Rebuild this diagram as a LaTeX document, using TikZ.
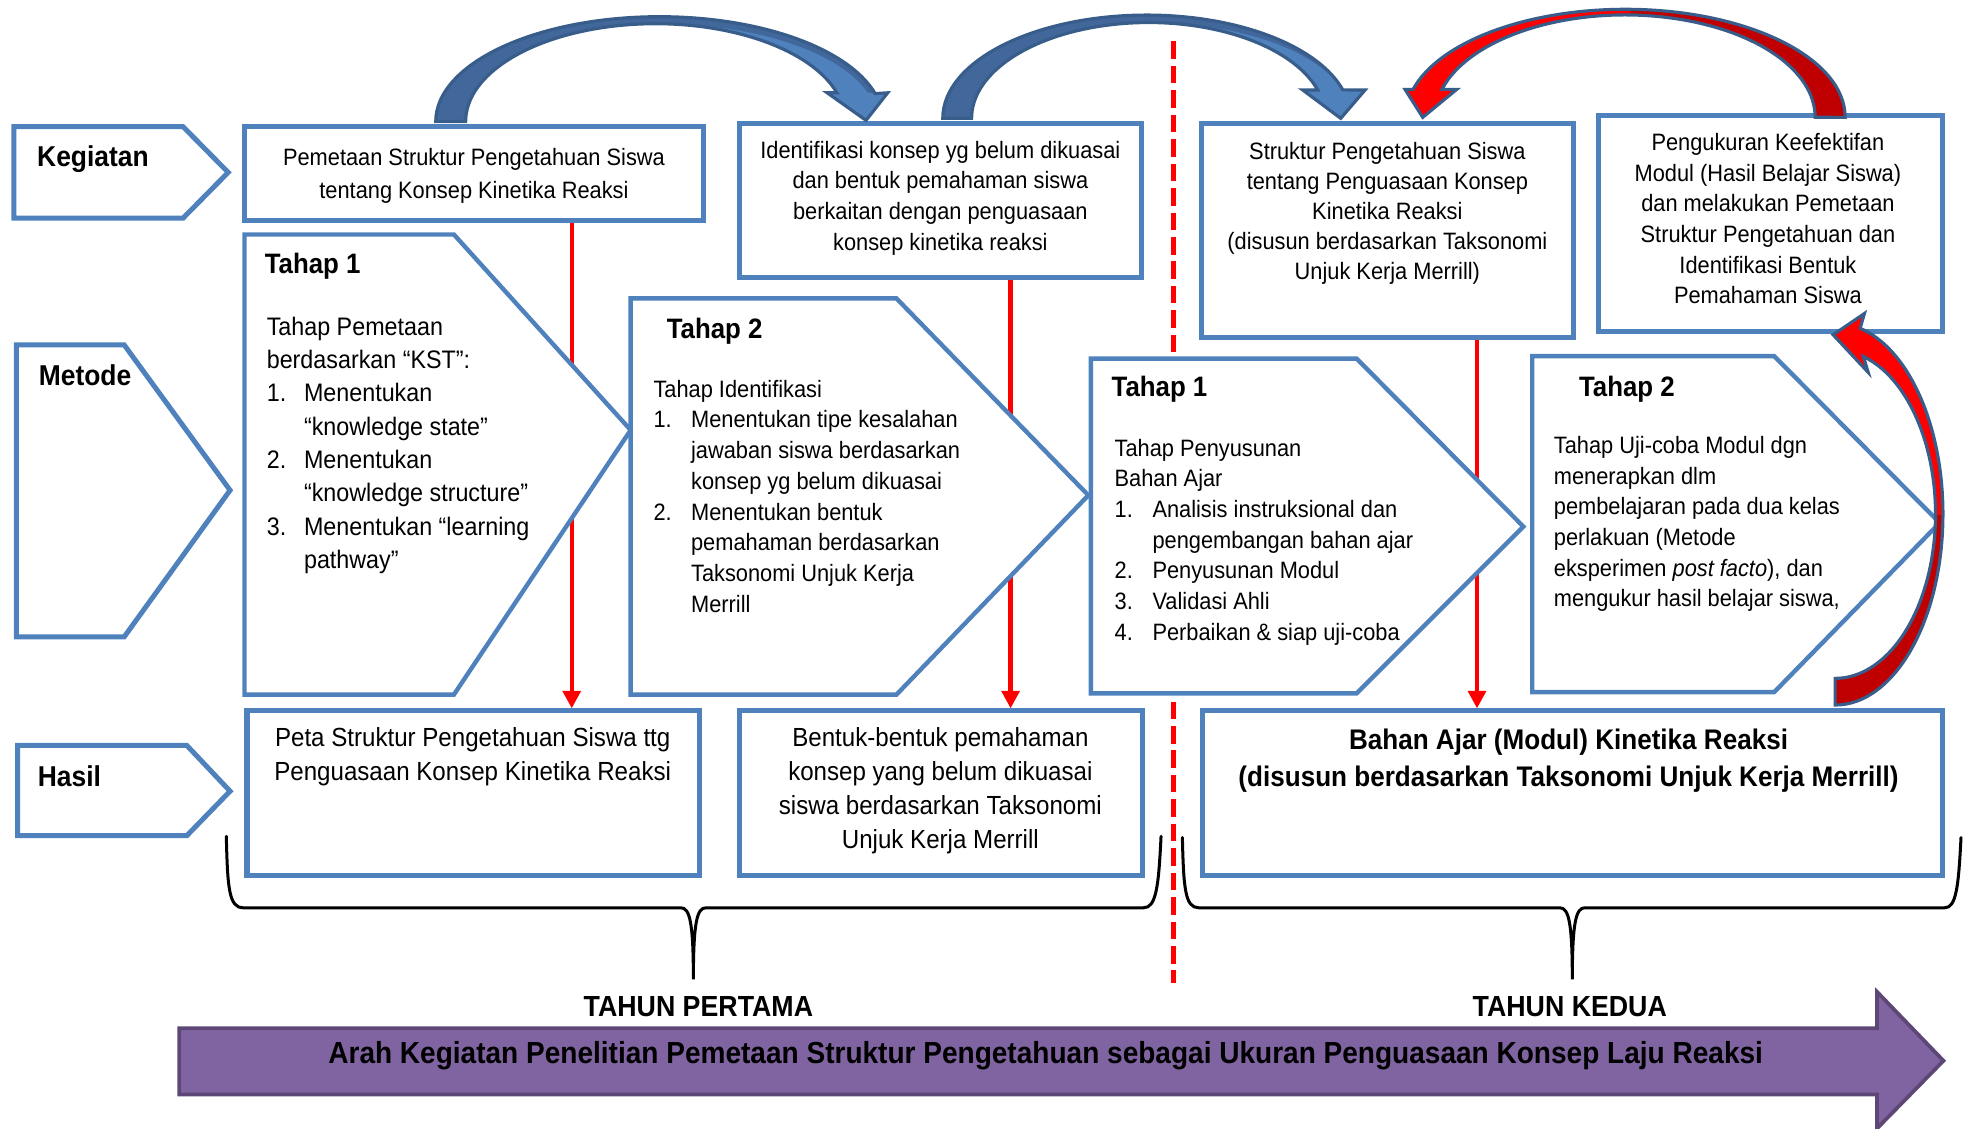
\documentclass[tikz,border=0pt]{standalone}
\usepackage{fontspec}
\setmainfont[FakeStretch=0.92]{Liberation Sans}
\usetikzlibrary{arrows.meta}

\definecolor{boxblue}{HTML}{4F81BD}
\definecolor{arrowedge}{HTML}{385D8A}
\definecolor{arrowback}{HTML}{41679B}
\definecolor{arrowfront}{HTML}{4F81BD}
\definecolor{darkred}{HTML}{C00000}
\definecolor{purplefill}{HTML}{8064A2}
\definecolor{purpleedge}{HTML}{5C4776}

\tikzset{
  box/.style={draw=boxblue, line width=4pt, fill=white, inner sep=0pt},
  chev/.style={draw=boxblue, line width=3.5pt, fill=white, line join=miter},
  lblshape/.style={draw=boxblue, line width=4pt, fill=white, line join=miter},
  txt/.style={inner sep=0pt, anchor=base west, font=\fontsize{18.9}{24.5}\selectfont},
  txtc/.style={txt, anchor=base},
  bigtxt/.style={txt, font=\fontsize{20.2}{27}\selectfont},
  restxt/.style={txtc, font=\fontsize{20.9}{27}\selectfont},
  resbold/.style={txtc, font=\fontsize{22.6}{30}\selectfont\bfseries},
  hdr/.style={txt, font=\fontsize{22.4}{27}\selectfont\bfseries},
  lbl/.style={txt, font=\fontsize{22.9}{27}\selectfont\bfseries},
  yeartxt/.style={txtc, font=\fontsize{23.2}{27}\selectfont\bfseries},
  redarrow/.style={draw=red, line width=3.5pt, -{Triangle[width=14pt,length=14pt]}},
  brace/.style={draw=black, line width=2.4pt, line cap=round},
  curveedge/.style={draw=arrowedge, line width=2.5pt, line join=miter},
}

\begin{document}
\begin{tikzpicture}[x=1pt, y=-1pt]
\useasboundingbox (0,0) rectangle (1568,900);

% ---------- activity boxes (top row) ----------
\node[box, minimum width=366pt, minimum height=75pt]  (K1) at (378,138.5) {};
\node[box, minimum width=321pt, minimum height=123pt] (K2) at (750,159.8) {};
\node[box, minimum width=297pt, minimum height=171pt] (K3) at (1106.5,184) {};
\node[box, minimum width=274pt, minimum height=172pt] (K4) at (1412.2,178.4) {};

% ---------- result boxes (bottom row) ----------
\node[box, minimum width=361pt, minimum height=131pt] (H1) at (377.5,632.5) {};
\node[box, minimum width=321pt, minimum height=131pt] (H2) at (750.5,632.5) {};
\node[box, minimum width=590pt, minimum height=131pt] (H3) at (1254,632.5) {};

% ---------- red links from activity to result (behind the stages) ----------
\draw[redarrow] (K1.south -| 456,0) -- (H1.north -| 456,0);
\draw[redarrow] (K2.south -| 806,0) -- (H2.north -| 806,0);
\draw[redarrow] (K3.south -| 1178,0) -- (H3.north -| 1178,0);

% year separator
\coordinate (septop) at (936,33);
\coordinate (sepbot) at (936,784);
\draw[red, line width=4pt, dash pattern=on 14pt off 5.5pt] (septop) -- (sepbot);

% ---------- row labels ----------
\draw[lblshape] (11,101) -- (146,101) -- (182,137.5) -- (146,174) -- (11,174) -- cycle;
\draw[lblshape] (13,275) -- (99,275) -- (183.5,391) -- (99,508) -- (13,508) -- cycle;
\draw[lblshape] (14,594.5) -- (149,594.5) -- (183.5,631) -- (149,666.5) -- (14,666.5) -- cycle;
\node[lbl] (lk) at (29.5,132.4) {Kegiatan};
\node[lbl] (lm) at (30.8,307.1) {Metode};
\node[lbl] (lh) at (30,626.9) {Hasil};

% ---------- stage chevrons ----------
\draw[chev] (195,187) -- (362,187) -- (503,343) -- (362,554) -- (195,554) -- cycle;
\draw[chev] (503,238) -- (715,238) -- (868,395) -- (715,554) -- (503,554) -- cycle;
\draw[chev] (870,286) -- (1082,286) -- (1215,420) -- (1082,553) -- (870,553) -- cycle;
\draw[chev] (1222,284) -- (1415,284) -- (1547,417) -- (1415,552) -- (1222,552) -- cycle;

% ---------- texts of the activity boxes ----------
\node[txtc, font=\fontsize{18.9}{27}\selectfont] (k1a) at (378,131.6) {Pemetaan Struktur Pengetahuan Siswa};
\node[txtc, font=\fontsize{18.9}{27}\selectfont] (k1b) at (378,158.7) {tentang Konsep Kinetika Reaksi};

\node[txtc] (k2a) at (750,126.3) {Identifikasi konsep yg belum dikuasai};
\node[txtc] (k2b) at (750,150.7) {dan bentuk pemahaman siswa};
\node[txtc] (k2c) at (750,175.1) {berkaitan dengan penguasaan};
\node[txtc] (k2d) at (750,199.5) {konsep kinetika reaksi};

\node[txtc] (k3a) at (1106.5,127) {Struktur Pengetahuan Siswa};
\node[txtc] (k3b) at (1106.5,151) {tentang Penguasaan Konsep};
\node[txtc] (k3c) at (1106.5,175) {Kinetika Reaksi};
\node[txtc] (k3d) at (1106.5,199) {(disusun berdasarkan Taksonomi};
\node[txtc] (k3e) at (1106.5,223) {Unjuk Kerja Merrill)};

\node[txtc] (k4a) at (1410,120.2) {Pengukuran Keefektifan};
\node[txtc] (k4b) at (1410,144.6) {Modul (Hasil Belajar Siswa)};
\node[txtc] (k4c) at (1410,169) {dan melakukan Pemetaan};
\node[txtc] (k4d) at (1410,193.4) {Struktur Pengetahuan dan};
\node[txtc] (k4e) at (1410,217.8) {Identifikasi Bentuk};
\node[txtc] (k4f) at (1410,242.2) {Pemahaman Siswa};

% ---------- stage 1, first year ----------
\node[hdr] (a0) at (211,218.5) {Tahap 1};
\node[bigtxt] (a1) at (212.6,267.2) {Tahap Pemetaan};
\node[bigtxt] (a2) at (212.6,293.8) {berdasarkan “KST”:};
\node[bigtxt] (a3n) at (212.6,320.4) {1.};
\node[bigtxt] (a3) at (242.3,320.4) {Menentukan};
\node[bigtxt] (a4) at (242.3,347) {“knowledge state”};
\node[bigtxt] (a5n) at (212.6,373.6) {2.};
\node[bigtxt] (a5) at (242.3,373.6) {Menentukan};
\node[bigtxt] (a6) at (242.3,400.2) {“knowledge structure”};
\node[bigtxt] (a7n) at (212.6,426.8) {3.};
\node[bigtxt] (a7) at (242.3,426.8) {Menentukan “learning};
\node[bigtxt] (a8) at (242.3,453.4) {pathway”};

% ---------- stage 2, first year ----------
\node[hdr] (b0) at (531.6,269.9) {Tahap 2};
\node[txt] (b1) at (521,316.8) {Tahap Identifikasi};
\node[txt] (b2n) at (521,341.3) {1.};
\node[txt] (b2) at (551,341.3) {Menentukan tipe kesalahan};
\node[txt] (b3) at (551,365.8) {jawaban siswa berdasarkan};
\node[txt] (b4) at (551,390.3) {konsep yg belum dikuasai};
\node[txt] (b5n) at (521,414.8) {2.};
\node[txt] (b5) at (551,414.8) {Menentukan bentuk};
\node[txt] (b6) at (551,439.3) {pemahaman berdasarkan};
\node[txt] (b7) at (551,463.8) {Taksonomi Unjuk Kerja};
\node[txt] (b8) at (551,488.3) {Merrill};

% ---------- stage 1, second year ----------
\node[hdr] (c0) at (886.4,316.4) {Tahap 1};
\node[txt] (c1) at (888.8,363.7) {Tahap Penyusunan};
\node[txt] (c2) at (888.8,388.2) {Bahan Ajar};
\node[txt] (c3n) at (888.8,412.7) {1.};
\node[txt] (c3) at (919,412.7) {Analisis instruksional dan};
\node[txt] (c4) at (919,437.2) {pengembangan bahan ajar};
\node[txt] (c5n) at (888.8,461.7) {2.};
\node[txt] (c5) at (919,461.7) {Penyusunan Modul};
\node[txt] (c6n) at (888.8,486.2) {3.};
\node[txt] (c6) at (919,486.2) {Validasi Ahli};
\node[txt] (c7n) at (888.8,510.7) {4.};
\node[txt] (c7) at (919,510.7) {Perbaikan \& siap uji-coba};

% ---------- stage 2, second year ----------
\node[hdr] (d0) at (1259.2,316.4) {Tahap 2};
\node[txt] (d1) at (1239.1,361.6) {Tahap Uji-coba Modul dgn};
\node[txt] (d2) at (1239.1,386.1) {menerapkan dlm};
\node[txt] (d3) at (1239.1,410.6) {pembelajaran pada dua kelas};
\node[txt] (d4) at (1239.1,435.1) {perlakuan (Metode};
\node[txt] (d5) at (1239.1,459.6) {eksperimen \textit{post facto}), dan};
\node[txt] (d6) at (1239.1,484.1) {mengukur hasil belajar siswa,};

% ---------- texts of the result boxes ----------
\node[restxt] (h1a) at (377,595.5) {Peta Struktur Pengetahuan Siswa ttg};
\node[restxt] (h1b) at (377,622.1) {Penguasaan Konsep Kinetika Reaksi};
\node[restxt] (h2a) at (750,595.5) {Bentuk-bentuk pemahaman};
\node[restxt] (h2b) at (750,622.5) {konsep yang belum dikuasai};
\node[restxt] (h2c) at (750,649.5) {siswa berdasarkan Taksonomi};
\node[restxt] (h2d) at (750,676.5) {Unjuk Kerja Merrill};
\node[resbold] (h3a) at (1251,598) {Bahan Ajar (Modul) Kinetika Reaksi};
\node[resbold] (h3b) at (1251,627.5) {(disusun berdasarkan Taksonomi Unjuk Kerja Merrill)};

% ---------- curved arrow: activity 1 -> activity 2 ----------
\fill[arrowback] (347.5,97) arc[start angle=180,end angle=15.5,x radius=178.5pt,y radius=83.7pt]
  -- (708,74) -- (690.7,96) -- (659.7,74) -- (667.5,74)
  arc[start angle=17.1,end angle=180,x radius=151.4pt,y radius=78pt] -- cycle;
\fill[arrowfront] (526,19) arc[start angle=90,end angle=17.1,x radius=173.7pt,y radius=78pt]
  -- (667.5,74) arc[start angle=17.1,end angle=90,x radius=151.4pt,y radius=78pt] -- cycle;
\fill[arrowfront] (708,74) -- (690.7,96) -- (659.7,74) -- cycle;
\draw[curveedge] (347.5,97) arc[start angle=180,end angle=15.5,x radius=178.5pt,y radius=83.7pt]
  -- (708,74) -- (690.7,96) -- (659.7,74) -- (667.5,74)
  arc[start angle=17.1,end angle=180,x radius=151.4pt,y radius=78pt] -- cycle;

% ---------- curved arrow: activity 2 -> activity 3 ----------
\fill[arrowback] (751.9,94.4) arc[start angle=180,end angle=16,x radius=162.7pt,y radius=82.4pt]
  -- (1088.7,71.8) -- (1069.3,94.4) -- (1039,71.8) -- (1051,71.8)
  arc[start angle=17.2,end angle=180,x radius=141.2pt,y radius=76.4pt] -- cycle;
\fill[arrowfront] (916,18) arc[start angle=90,end angle=17.2,x radius=162.3pt,y radius=76.4pt]
  -- (1051,71.8) arc[start angle=17.2,end angle=90,x radius=141.2pt,y radius=76.4pt] -- cycle;
\fill[arrowfront] (1088.7,71.8) -- (1069.3,94.4) -- (1039,71.8) -- cycle;
\draw[curveedge] (751.9,94.4) arc[start angle=180,end angle=16,x radius=162.7pt,y radius=82.4pt]
  -- (1088.7,71.8) -- (1069.3,94.4) -- (1039,71.8) -- (1051,71.8)
  arc[start angle=17.2,end angle=180,x radius=141.2pt,y radius=76.4pt] -- cycle;

% ---------- curved arrow: activity 4 -> activity 3 ----------
\fill[darkred] (1471.6,93.6) arc[start angle=0,end angle=165,x radius=175.3pt,y radius=86.2pt]
  -- (1120.6,71.3) -- (1134.7,93.6) -- (1161.8,71.3) -- (1150,71.3)
  arc[start angle=164.2,end angle=0,x radius=151.7pt,y radius=81.6pt] -- cycle;
\begin{scope}
  \clip (1100,0) rectangle (1300,120);
  \fill[red] (1471.6,93.6) arc[start angle=0,end angle=165,x radius=175.3pt,y radius=86.2pt]
    -- (1120.6,71.3) -- (1134.7,93.6) -- (1161.8,71.3) -- (1150,71.3)
    arc[start angle=164.2,end angle=0,x radius=151.7pt,y radius=81.6pt] -- cycle;
\end{scope}
\draw[curveedge] (1471.6,93.6) arc[start angle=0,end angle=165,x radius=175.3pt,y radius=86.2pt]
  -- (1120.6,71.3) -- (1134.7,93.6) -- (1161.8,71.3) -- (1150,71.3)
  arc[start angle=164.2,end angle=0,x radius=151.7pt,y radius=81.6pt] -- cycle;

% ---------- curved arrow: result 3 -> activity 4 ----------
\fill[darkred] (1463.6,562.3) arc[start angle=-90,end angle=76.6,x radius=86pt,y radius=152.3pt]
  -- (1487,250) -- (1462,267) -- (1490,297) -- (1486.1,284.3)
  arc[start angle=73.7,end angle=-90,x radius=80pt,y radius=131pt] -- cycle;
\begin{scope}
  \clip (1440,240) rectangle (1570,410);
  \fill[red] (1463.6,562.3) arc[start angle=-90,end angle=76.6,x radius=86pt,y radius=152.3pt]
    -- (1487,250) -- (1462,267) -- (1490,297) -- (1486.1,284.3)
    arc[start angle=73.7,end angle=-90,x radius=80pt,y radius=131pt] -- cycle;
\end{scope}
\draw[curveedge] (1463.6,562.3) arc[start angle=-90,end angle=76.6,x radius=86pt,y radius=152.3pt]
  -- (1487,250) -- (1462,267) -- (1490,297) -- (1486.1,284.3)
  arc[start angle=73.7,end angle=-90,x radius=80pt,y radius=131pt] -- cycle;

% ---------- year braces ----------
\draw[brace] (180.5,667) .. controls (181.5,708) and (182.5,724) .. (194,724) -- (543,724)
  .. controls (550,724) and (553,735) .. (553,781)
  .. controls (553,735) and (556,724) .. (563,724) -- (912,724)
  .. controls (922,724) and (924,708) .. (926,667);
\draw[brace] (943,668) .. controls (944,708) and (945,724) .. (956,724) -- (1244,724)
  .. controls (1251,724) and (1254,735) .. (1254,781)
  .. controls (1254,735) and (1257,724) .. (1264,724) -- (1551,724)
  .. controls (1560,724) and (1562,708) .. (1564,668);
\node[yeartxt] (y1) at (557,811) {TAHUN PERTAMA};
\node[yeartxt] (y2) at (1252,811) {TAHUN KEDUA};

% ---------- direction arrow ----------
\draw[fill=purplefill, draw=purpleedge, line width=3pt, line join=miter]
  (143,820) -- (1497,820) -- (1497,791) -- (1550,846) -- (1497,900) -- (1497,873) -- (143,873) -- cycle;
\node[txtc, font=\fontsize{24.3}{28}\selectfont\bfseries] (dir) at (834,848)
  {Arah Kegiatan Penelitian Pemetaan Struktur Pengetahuan sebagai Ukuran Penguasaan Konsep Laju Reaksi};

\end{tikzpicture}
\end{document}
